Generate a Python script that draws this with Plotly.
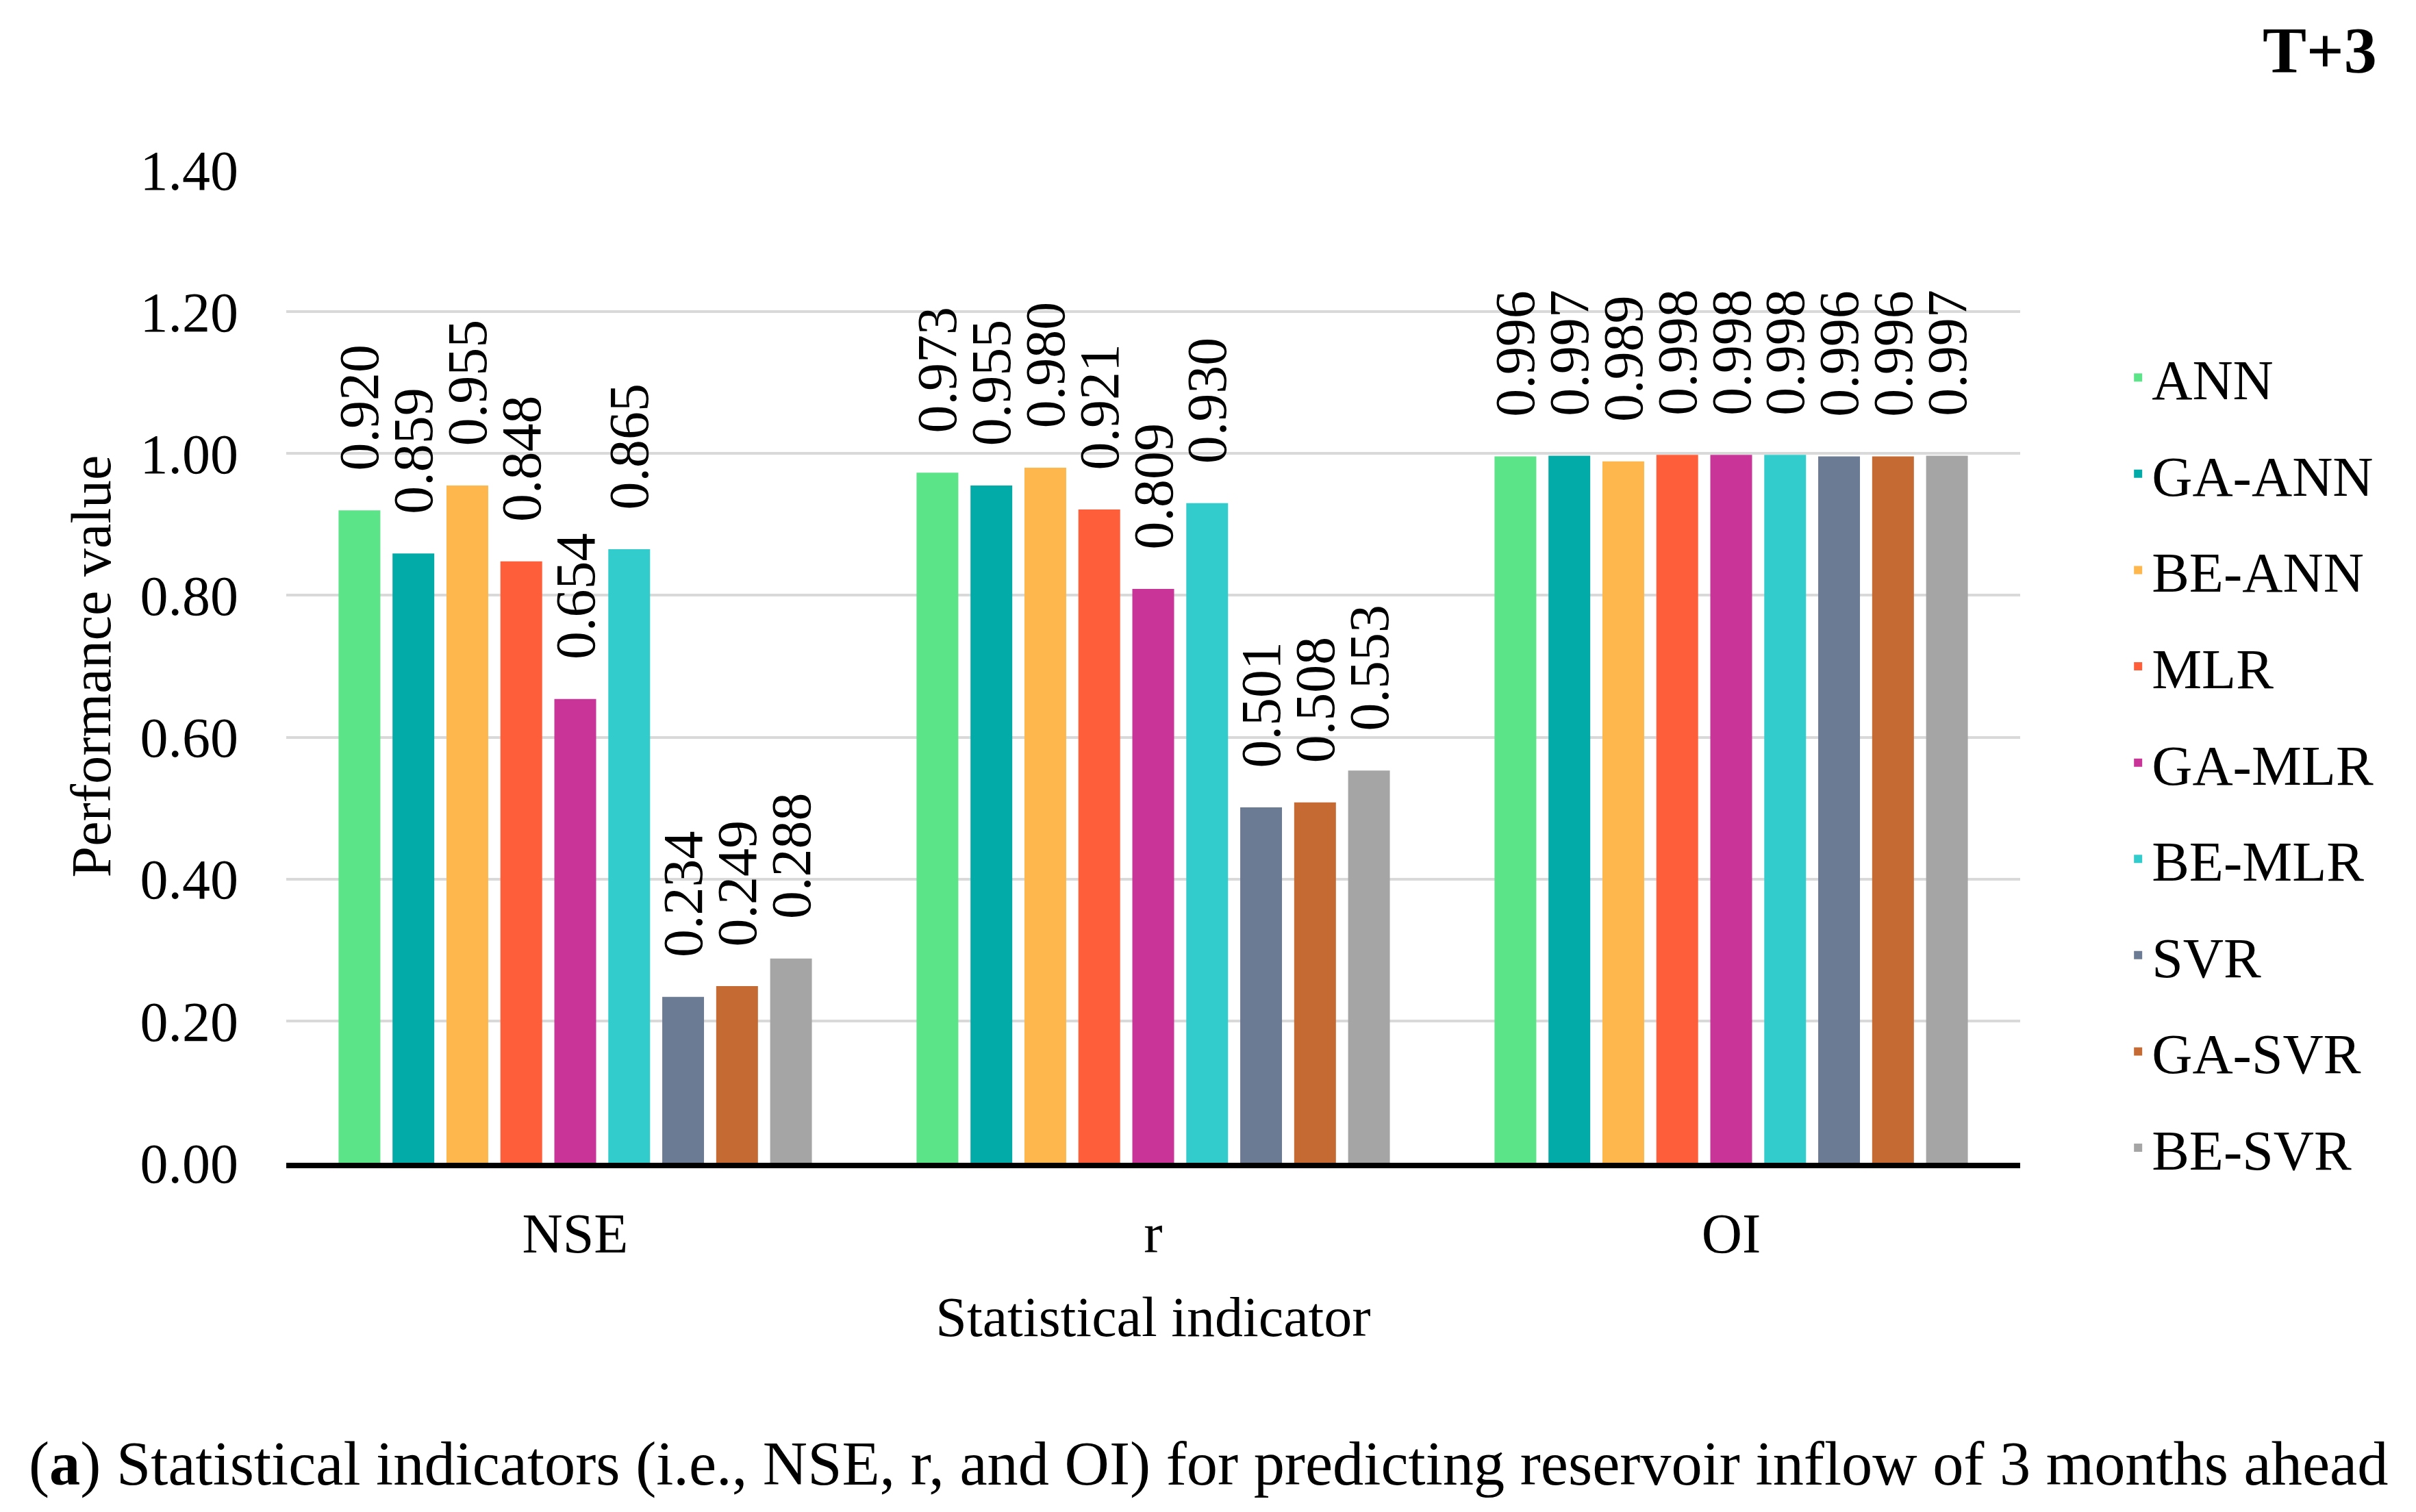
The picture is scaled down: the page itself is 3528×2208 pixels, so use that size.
import plotly.graph_objects as go

categories = ["NSE", "r", "OI"]
models = ["ANN", "GA-ANN", "BE-ANN", "MLR", "GA-MLR", "BE-MLR", "SVR", "GA-SVR", "BE-SVR"]
colors = ["#5CE488", "#02ABA8", "#FDB74C", "#FF5E3A", "#C83497",
          "#33CCCC", "#6B7B94", "#C56A33", "#A5A5A5"]

ann_vals = [0.920, 0.973, 0.996]
ga_ann_vals = [0.859, 0.955, 0.997]
be_ann_vals = [0.955, 0.980, 0.989]
mlr_vals = [0.848, 0.921, 0.998]
ga_mlr_vals = [0.654, 0.809, 0.998]
be_mlr_vals = [0.865, 0.930, 0.998]
svr_vals = [0.234, 0.501, 0.996]
ga_svr_vals = [0.249, 0.508, 0.996]
be_svr_vals = [0.288, 0.553, 0.997]

series = [ann_vals, ga_ann_vals, be_ann_vals, mlr_vals, ga_mlr_vals,
          be_mlr_vals, svr_vals, ga_svr_vals, be_svr_vals]

y_ticks = [0.0, 0.2, 0.4, 0.6, 0.8, 1.0, 1.2, 1.4]

FONT = "Liberation Serif"
FS = 82
label_font = dict(family=FONT, size=FS, color="black")

fig = go.Figure()
for name, vals, col in zip(models, series, colors):
    fig.add_trace(go.Bar(
        x=categories, y=vals, name=name, legendgroup=name,
        marker=dict(color=col, line=dict(width=0)),
        text=vals, texttemplate="\u00a0\u00a0\u2006%{y:.3f}",
        textposition="outside", textangle=-90, constraintext="none",
        cliponaxis=False,
        textfont=label_font, outsidetextfont=label_font, insidetextfont=label_font,
    ))

fig.update_layout(
    width=3512, height=2192,
    margin=dict(l=410, r=570, t=240, b=502),
    paper_bgcolor="white", plot_bgcolor="white",
    barmode="group", bargap=0.16, bargroupgap=0.226,
    font=dict(family=FONT, size=FS, color="black"),
    legend=dict(
        x=1.0601, xanchor="left", y=0.4028, yanchor="middle",
        font=dict(family=FONT, size=FS, color="black"),
        tracegroupgap=31, traceorder="grouped",
        bgcolor="rgba(0,0,0,0)",
    ),
    xaxis=dict(
        showline=True, linecolor="black", linewidth=8,
        showgrid=False, ticks="", ticklabelstandoff=25,
        tickfont=dict(family=FONT, size=FS, color="black"),
        title=dict(text="Statistical indicator", standoff=50,
                   font=dict(family=FONT, size=FS, color="black")),
    ),
    yaxis=dict(
        range=[0, 1.4], tickvals=y_ticks, tickformat=".2f",
        showgrid=True, gridcolor="#D9D9D9", gridwidth=3.5,
        zeroline=False, showline=False, ticks="", ticklabelstandoff=69,
        tickfont=dict(family=FONT, size=FS, color="black"),
        title=dict(text="Performance value", standoff=15,
                   font=dict(family=FONT, size=FS, color="black")),
    ),
    annotations=[
        dict(text="<b>T+3</b>", xref="paper", yref="paper",
             x=1.2066, xanchor="right", y=1.120, yanchor="middle",
             showarrow=False, font=dict(family=FONT, size=96, color="black")),
        dict(text="(<b>a</b>) Statistical indicators (i.e., NSE, r, and OI) for predicting reservoir inflow of 3 months ahead",
             xref="paper", yref="paper", x=-0.1493, xanchor="left",
             y=-0.3028, yanchor="middle", showarrow=False,
             font=dict(family=FONT, size=90.4, color="black")),
    ],
)

fig.write_html("out.html")
